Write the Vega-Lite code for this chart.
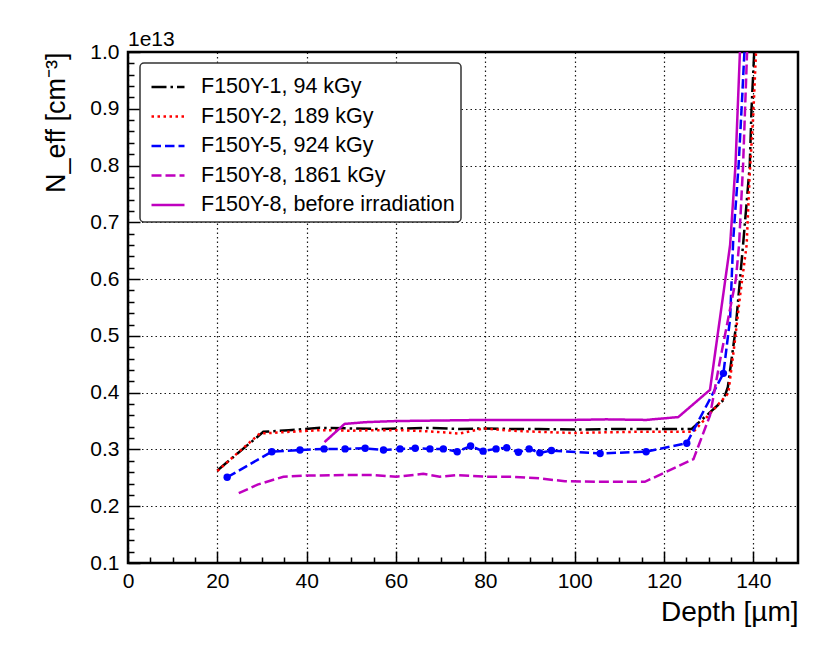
{
  "$schema": "https://vega.github.io/schema/vega-lite/v6.json",
  "width": 670,
  "height": 511,
  "autosize": "none",
  "padding": {"left": 128, "top": 52, "right": 32, "bottom": 101},
  "background": "white",
  "title": {
    "text": "1e13",
    "anchor": "start",
    "frame": "group",
    "offset": 5,
    "dy": 14,
    "fontSize": 21,
    "fontWeight": "normal",
    "color": "black"
  },
  "config": {
    "font": "Liberation Sans",
    "view": {"stroke": "black", "strokeWidth": 2.5},
    "axis": {
      "domain": false,
      "tickColor": "black",
      "tickWidth": 1.5,
      "labelColor": "black",
      "labelFontSize": 21,
      "titleColor": "black",
      "titleFontWeight": "normal",
      "gridColor": "black",
      "gridDash": [1.5, 3],
      "gridWidth": 1.2,
      "gridOpacity": 0.9
    },
    "legend": {
      "orient": "none",
      "legendX": 12,
      "legendY": 11,
      "symbolType": "stroke",
      "symbolSize": 1089,
      "symbolStrokeWidth": 2.5,
      "symbolOffset": 4,
      "labelFontSize": 21.5,
      "labelColor": "black",
      "labelOffset": 15,
      "labelLimit": 0,
      "padding": 6,
      "rowPadding": 0.5,
      "cornerRadius": 4,
      "strokeColor": "#333333",
      "strokeWidth": 1.5,
      "fillColor": "white"
    }
  },
  "data": {
    "values": [
      {"s": "F150Y-1, 94 kGy", "d": 20, "n": 0.263},
      {"s": "F150Y-1, 94 kGy", "d": 30.3, "n": 0.331},
      {"s": "F150Y-1, 94 kGy", "d": 36, "n": 0.334},
      {"s": "F150Y-1, 94 kGy", "d": 43, "n": 0.338},
      {"s": "F150Y-1, 94 kGy", "d": 50, "n": 0.337},
      {"s": "F150Y-1, 94 kGy", "d": 56, "n": 0.336},
      {"s": "F150Y-1, 94 kGy", "d": 62, "n": 0.337},
      {"s": "F150Y-1, 94 kGy", "d": 68, "n": 0.338},
      {"s": "F150Y-1, 94 kGy", "d": 74, "n": 0.336},
      {"s": "F150Y-1, 94 kGy", "d": 80, "n": 0.337},
      {"s": "F150Y-1, 94 kGy", "d": 86, "n": 0.336},
      {"s": "F150Y-1, 94 kGy", "d": 92, "n": 0.336},
      {"s": "F150Y-1, 94 kGy", "d": 100, "n": 0.335},
      {"s": "F150Y-1, 94 kGy", "d": 110, "n": 0.336},
      {"s": "F150Y-1, 94 kGy", "d": 120, "n": 0.336},
      {"s": "F150Y-1, 94 kGy", "d": 126.2, "n": 0.336},
      {"s": "F150Y-1, 94 kGy", "d": 133.3, "n": 0.387},
      {"s": "F150Y-1, 94 kGy", "d": 134.3, "n": 0.41},
      {"s": "F150Y-1, 94 kGy", "d": 136, "n": 0.51},
      {"s": "F150Y-1, 94 kGy", "d": 137.7, "n": 0.66},
      {"s": "F150Y-1, 94 kGy", "d": 139.2, "n": 0.8},
      {"s": "F150Y-1, 94 kGy", "d": 139.6, "n": 0.9},
      {"s": "F150Y-1, 94 kGy", "d": 140.2, "n": 1.0},
      {"s": "F150Y-1, 94 kGy", "d": 140.3, "n": 1.04},

      {"s": "F150Y-2, 189 kGy", "d": 20, "n": 0.262},
      {"s": "F150Y-2, 189 kGy", "d": 24, "n": 0.29},
      {"s": "F150Y-2, 189 kGy", "d": 29.5, "n": 0.328},
      {"s": "F150Y-2, 189 kGy", "d": 36.3, "n": 0.331},
      {"s": "F150Y-2, 189 kGy", "d": 43, "n": 0.334},
      {"s": "F150Y-2, 189 kGy", "d": 50, "n": 0.333},
      {"s": "F150Y-2, 189 kGy", "d": 56, "n": 0.334},
      {"s": "F150Y-2, 189 kGy", "d": 61, "n": 0.334},
      {"s": "F150Y-2, 189 kGy", "d": 67, "n": 0.332},
      {"s": "F150Y-2, 189 kGy", "d": 74.3, "n": 0.328},
      {"s": "F150Y-2, 189 kGy", "d": 79.5, "n": 0.337},
      {"s": "F150Y-2, 189 kGy", "d": 86, "n": 0.333},
      {"s": "F150Y-2, 189 kGy", "d": 92, "n": 0.331},
      {"s": "F150Y-2, 189 kGy", "d": 99.6, "n": 0.329},
      {"s": "F150Y-2, 189 kGy", "d": 106, "n": 0.33},
      {"s": "F150Y-2, 189 kGy", "d": 113, "n": 0.331},
      {"s": "F150Y-2, 189 kGy", "d": 120, "n": 0.331},
      {"s": "F150Y-2, 189 kGy", "d": 126.6, "n": 0.331},
      {"s": "F150Y-2, 189 kGy", "d": 134.4, "n": 0.399},
      {"s": "F150Y-2, 189 kGy", "d": 135.9, "n": 0.493},
      {"s": "F150Y-2, 189 kGy", "d": 137, "n": 0.569},
      {"s": "F150Y-2, 189 kGy", "d": 138.5, "n": 0.66},
      {"s": "F150Y-2, 189 kGy", "d": 139.2, "n": 0.786},
      {"s": "F150Y-2, 189 kGy", "d": 140, "n": 0.892},
      {"s": "F150Y-2, 189 kGy", "d": 140.6, "n": 1.0},
      {"s": "F150Y-2, 189 kGy", "d": 140.7, "n": 1.04},

      {"s": "F150Y-5, 924 kGy", "d": 22.2, "n": 0.251},
      {"s": "F150Y-5, 924 kGy", "d": 32.2, "n": 0.296},
      {"s": "F150Y-5, 924 kGy", "d": 38.5, "n": 0.299},
      {"s": "F150Y-5, 924 kGy", "d": 43.9, "n": 0.301},
      {"s": "F150Y-5, 924 kGy", "d": 48.6, "n": 0.301},
      {"s": "F150Y-5, 924 kGy", "d": 53.1, "n": 0.302},
      {"s": "F150Y-5, 924 kGy", "d": 57.2, "n": 0.299},
      {"s": "F150Y-5, 924 kGy", "d": 60.9, "n": 0.301},
      {"s": "F150Y-5, 924 kGy", "d": 64.3, "n": 0.302},
      {"s": "F150Y-5, 924 kGy", "d": 67.6, "n": 0.301},
      {"s": "F150Y-5, 924 kGy", "d": 70.6, "n": 0.301},
      {"s": "F150Y-5, 924 kGy", "d": 73.7, "n": 0.296},
      {"s": "F150Y-5, 924 kGy", "d": 76.7, "n": 0.306},
      {"s": "F150Y-5, 924 kGy", "d": 79.5, "n": 0.297},
      {"s": "F150Y-5, 924 kGy", "d": 82.4, "n": 0.301},
      {"s": "F150Y-5, 924 kGy", "d": 84.8, "n": 0.303},
      {"s": "F150Y-5, 924 kGy", "d": 87.4, "n": 0.295},
      {"s": "F150Y-5, 924 kGy", "d": 89.8, "n": 0.301},
      {"s": "F150Y-5, 924 kGy", "d": 92.2, "n": 0.294},
      {"s": "F150Y-5, 924 kGy", "d": 94.8, "n": 0.298},
      {"s": "F150Y-5, 924 kGy", "d": 105.7, "n": 0.293},
      {"s": "F150Y-5, 924 kGy", "d": 116, "n": 0.296},
      {"s": "F150Y-5, 924 kGy", "d": 125.1, "n": 0.311},
      {"s": "F150Y-5, 924 kGy", "d": 133.3, "n": 0.434},
      {"s": "F150Y-5, 924 kGy", "d": 134.8, "n": 0.53},
      {"s": "F150Y-5, 924 kGy", "d": 135.5, "n": 0.67},
      {"s": "F150Y-5, 924 kGy", "d": 136.7, "n": 0.8},
      {"s": "F150Y-5, 924 kGy", "d": 137.5, "n": 0.92},
      {"s": "F150Y-5, 924 kGy", "d": 138.0, "n": 1.0},
      {"s": "F150Y-5, 924 kGy", "d": 138.2, "n": 1.04},

      {"s": "F150Y-8, 1861 kGy", "d": 24.8, "n": 0.223},
      {"s": "F150Y-8, 1861 kGy", "d": 29, "n": 0.238},
      {"s": "F150Y-8, 1861 kGy", "d": 34.8, "n": 0.252},
      {"s": "F150Y-8, 1861 kGy", "d": 40, "n": 0.254},
      {"s": "F150Y-8, 1861 kGy", "d": 49, "n": 0.255},
      {"s": "F150Y-8, 1861 kGy", "d": 55, "n": 0.255},
      {"s": "F150Y-8, 1861 kGy", "d": 60.1, "n": 0.252},
      {"s": "F150Y-8, 1861 kGy", "d": 66.1, "n": 0.257},
      {"s": "F150Y-8, 1861 kGy", "d": 69.8, "n": 0.252},
      {"s": "F150Y-8, 1861 kGy", "d": 73.6, "n": 0.255},
      {"s": "F150Y-8, 1861 kGy", "d": 80.3, "n": 0.252},
      {"s": "F150Y-8, 1861 kGy", "d": 86, "n": 0.252},
      {"s": "F150Y-8, 1861 kGy", "d": 92.2, "n": 0.249},
      {"s": "F150Y-8, 1861 kGy", "d": 97.8, "n": 0.244},
      {"s": "F150Y-8, 1861 kGy", "d": 105, "n": 0.243},
      {"s": "F150Y-8, 1861 kGy", "d": 115.7, "n": 0.243},
      {"s": "F150Y-8, 1861 kGy", "d": 126.6, "n": 0.283},
      {"s": "F150Y-8, 1861 kGy", "d": 130.3, "n": 0.36},
      {"s": "F150Y-8, 1861 kGy", "d": 132.5, "n": 0.455},
      {"s": "F150Y-8, 1861 kGy", "d": 136.1, "n": 0.6},
      {"s": "F150Y-8, 1861 kGy", "d": 136.8, "n": 0.66},
      {"s": "F150Y-8, 1861 kGy", "d": 137.7, "n": 0.8},
      {"s": "F150Y-8, 1861 kGy", "d": 138.6, "n": 1.0},
      {"s": "F150Y-8, 1861 kGy", "d": 138.8, "n": 1.04},

      {"s": "F150Y-8, before irradiation", "d": 44, "n": 0.313},
      {"s": "F150Y-8, before irradiation", "d": 48.5, "n": 0.345},
      {"s": "F150Y-8, before irradiation", "d": 53, "n": 0.348},
      {"s": "F150Y-8, before irradiation", "d": 60, "n": 0.35},
      {"s": "F150Y-8, before irradiation", "d": 70, "n": 0.351},
      {"s": "F150Y-8, before irradiation", "d": 80, "n": 0.352},
      {"s": "F150Y-8, before irradiation", "d": 90, "n": 0.352},
      {"s": "F150Y-8, before irradiation", "d": 100, "n": 0.352},
      {"s": "F150Y-8, before irradiation", "d": 107, "n": 0.353},
      {"s": "F150Y-8, before irradiation", "d": 116, "n": 0.352},
      {"s": "F150Y-8, before irradiation", "d": 123.2, "n": 0.357},
      {"s": "F150Y-8, before irradiation", "d": 130.3, "n": 0.405},
      {"s": "F150Y-8, before irradiation", "d": 134.8, "n": 0.66},
      {"s": "F150Y-8, before irradiation", "d": 136, "n": 0.8},
      {"s": "F150Y-8, before irradiation", "d": 137, "n": 1.0},
      {"s": "F150Y-8, before irradiation", "d": 137.2, "n": 1.04}
    ]
  },
  "layer": [
    {
      "mark": {"type": "line", "strokeWidth": 2.5, "clip": true},
      "encoding": {
        "x": {
          "field": "d",
          "type": "quantitative",
          "scale": {"domain": [0, 150], "nice": false, "zero": false},
          "axis": {
            "orient": "bottom",
            "values": [0, 20, 40, 60, 80, 100, 120, 140],
            "tickSize": -12,
            "labelPadding": 19,
            "labelFlush": false,
            "grid": true,
            "title": "Depth [µm]",
            "titleFontSize": 28,
            "titleAnchor": "end",
            "titlePadding": 7
          }
        },
        "y": {
          "field": "n",
          "type": "quantitative",
          "scale": {"domain": [0.1, 1.0], "nice": false, "zero": false},
          "axis": {
            "orient": "left",
            "values": [0.1, 0.2, 0.3, 0.4, 0.5, 0.6, 0.7, 0.8, 0.9, 1.0],
            "format": ".1f",
            "tickSize": -12,
            "labelPadding": 21,
            "labelFlush": false,
            "grid": true,
            "title": "N_eff [cm⁻³]",
            "titleFontSize": 27,
            "titleAnchor": "end",
            "titlePadding": 19
          }
        },
        "color": {
          "field": "s",
          "type": "nominal",
          "scale": {
            "domain": ["F150Y-1, 94 kGy", "F150Y-2, 189 kGy", "F150Y-5, 924 kGy", "F150Y-8, 1861 kGy", "F150Y-8, before irradiation"],
            "range": ["#000000", "#ff0000", "#0000ff", "#bf00bf", "#bf00bf"]
          },
          "legend": {"title": null}
        },
        "strokeDash": {
          "field": "s",
          "type": "nominal",
          "scale": {
            "domain": ["F150Y-1, 94 kGy", "F150Y-2, 189 kGy", "F150Y-5, 924 kGy", "F150Y-8, 1861 kGy", "F150Y-8, before irradiation"],
            "range": [[15, 4, 2.5, 4], [2.5, 3.5], [9.5, 4], [10, 4], [1, 0]]
          },
          "legend": {"title": null}
        }
      }
    },
    {
      "transform": [{"filter": "datum.s == 'F150Y-5, 924 kGy' && datum.d < 134"}],
      "mark": {"type": "point", "filled": true, "color": "#0000ff", "size": 55, "opacity": 1, "clip": true},
      "encoding": {
        "x": {
          "field": "d",
          "type": "quantitative",
          "scale": {"domain": [0, 150], "nice": false, "zero": false},
          "axis": {
            "orient": "bottom",
            "values": [5, 10, 15, 25, 30, 35, 45, 50, 55, 65, 70, 75, 85, 90, 95, 105, 110, 115, 125, 130, 135, 145],
            "tickSize": -6,
            "labels": false,
            "grid": false,
            "title": null
          }
        },
        "y": {
          "field": "n",
          "type": "quantitative",
          "scale": {"domain": [0.1, 1.0], "nice": false, "zero": false},
          "axis": {
            "orient": "left",
            "values": [0.12, 0.14, 0.16, 0.18, 0.22, 0.24, 0.26, 0.28, 0.32, 0.34, 0.36, 0.38, 0.42, 0.44, 0.46, 0.48, 0.52, 0.54, 0.56, 0.58, 0.62, 0.64, 0.66, 0.68, 0.72, 0.74, 0.76, 0.78, 0.82, 0.84, 0.86, 0.88, 0.92, 0.94, 0.96, 0.98],
            "tickSize": -6,
            "labels": false,
            "grid": false,
            "title": null
          }
        }
      }
    }
  ],
  "resolve": {"axis": {"x": "independent", "y": "independent"}}
}
